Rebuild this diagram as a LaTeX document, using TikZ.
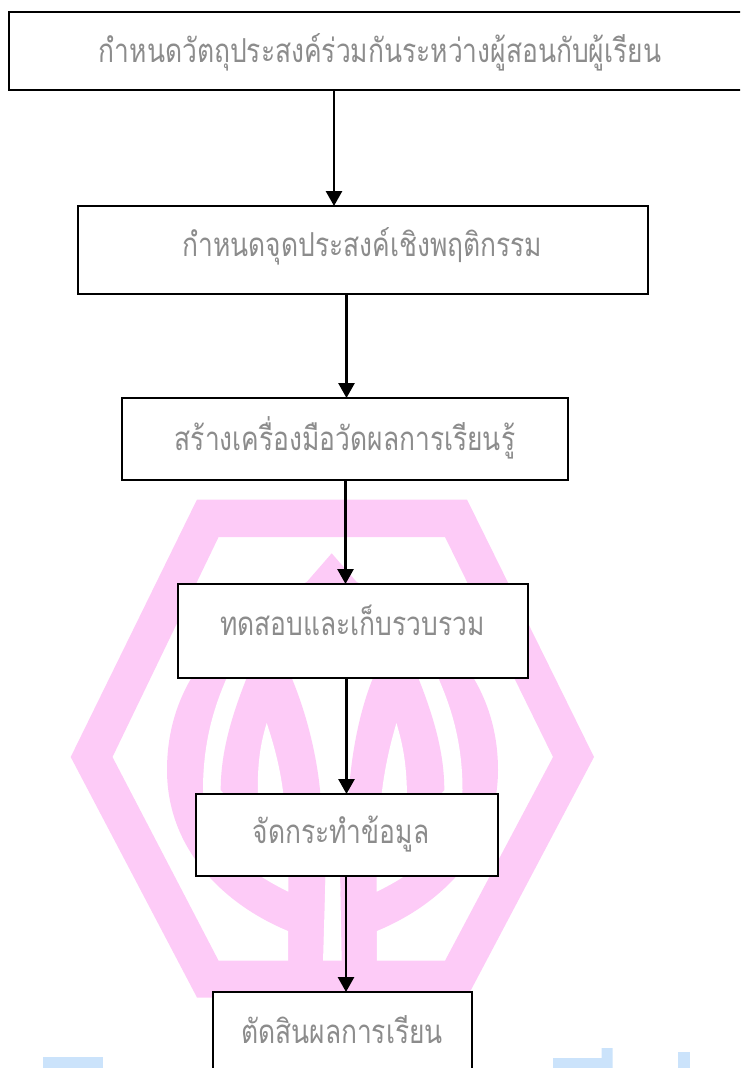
\documentclass[tikz,border=0pt]{standalone}
\usepackage{fontspec}
\usetikzlibrary{arrows.meta}
\newfontfamily\thaifont[Script=Thai,FakeStretch=0.8]{Loma}
\definecolor{wmpink}{HTML}{FDCBF7}
\definecolor{wmblue}{HTML}{CBE3FB}
\definecolor{txtgray}{HTML}{8C8C8C}
\tikzset{
  stepbox/.style={draw=black,fill=white,line width=2.8pt,inner sep=0pt,outer sep=0pt},
  steptext/.style={anchor=base,inner sep=0pt,text=txtgray,font=\thaifont\fontsize{33}{38}\selectfont},
  flowline/.style={draw=black,line width=2.8pt,-{Triangle[width=16pt,length=15pt]}},
  pinkfill/.style={fill=wmpink,draw=none},
  whitefill/.style={fill=white,draw=none},
  bluefill/.style={fill=wmblue,draw=none}
}
\begin{document}
\begin{tikzpicture}[x=1pt,y=-1pt]
\useasboundingbox (0,0) rectangle (740,1068);
\clip (0,0) rectangle (740,1068);
% watermark: bottom blue pieces
\fill[bluefill] (43,1057) rectangle (103,1068);
\fill[bluefill] (553,1058) -- (601.7,1058) -- (601.7,1048) -- (612.7,1048) -- (612.7,1068) -- (553,1068) -- cycle;
\fill[bluefill] (678,1052) rectangle (690,1068);
% watermark: lotus
\fill[pinkfill] (331.7,553.3) -- (306.7,582)
  .. controls (225,620) and (167,680) .. (167,770)
  .. controls (167,850) and (225,905) .. (288.3,931)
  -- (288.3,962) -- (376.7,962) -- (376.7,931)
  .. controls (440,905) and (498,850) .. (498,770)
  .. controls (498,680) and (440,620) .. (356.7,582) -- cycle;
\fill[whitefill] (332.5,600) -- (226.7,678)
  .. controls (215,705) and (203,740) .. (203,790)
  .. controls (203,835) and (240,868) .. (288.3,891.7)
  -- (376.7,891.7)
  .. controls (425,868) and (462.5,835) .. (462.5,790)
  .. controls (462.5,740) and (450,705) .. (438.3,678) -- cycle;
\fill[pinkfill] (269,640) -- (246.7,678)
  .. controls (230,720) and (220.7,755) .. (220.7,790)
  -- (288.3,870) -- (288.3,962) -- (323,962) -- (325.7,876) -- (320,790)
  .. controls (316,750) and (305,710) .. (291.7,678) -- cycle;
\fill[pinkfill] (396,640) -- (418.3,678)
  .. controls (435,720) and (444.3,755) .. (444.3,790)
  -- (376.7,870) -- (376.7,962) -- (341.7,962) -- (340,876) -- (349,790)
  .. controls (352,750) and (360,710) .. (373,678) -- cycle;
\fill[whitefill] (266.7,723) .. controls (260,745) and (257,765) .. (258,800) -- (284,800) .. controls (281,770) and (274,745) .. (266.7,723) -- cycle;
\fill[whitefill] (396.4,723) .. controls (403,745) and (407,765) .. (407,800) -- (381,800) .. controls (384,770) and (390,745) .. (396.4,723) -- cycle;
\fill[whitefill] (325.7,870) -- (340,870) -- (341.7,962) -- (323,962) -- cycle;
% watermark: hexagon ring
\fill[pinkfill,even odd rule] (197,499.5) -- (467,499.5) -- (594,757) -- (467,997.5) -- (197,997.5) -- (70.7,757) -- cycle
  (218.6,537) -- (445,537) -- (553,757) -- (445,960.7) -- (218.6,960.7) -- (112.5,757) -- cycle;
% boxes
\node[stepbox,minimum width=771pt,minimum height=78pt] (b1) at (394.5,51) {};
\node[stepbox,minimum width=570pt,minimum height=88pt] (b2) at (363,250) {};
\node[stepbox,minimum width=446pt,minimum height=82pt] (b3) at (345,439) {};
\node[stepbox,minimum width=350pt,minimum height=94pt] (b4) at (353,631) {};
\node[stepbox,minimum width=302pt,minimum height=82pt] (b5) at (347,835) {};
\node[stepbox,minimum width=259pt,minimum height=108pt] (b6) at (342.5,1046) {};
% labels
\node[steptext] (t1) at (380,62) {กำหนดวัตถุประสงค์ร่วมกันระหว่างผู้สอนกับผู้เรียน};
\node[steptext] (t2) at (362.5,256) {กำหนดจุดประสงค์เชิงพฤติกรรม};
\node[steptext] (t3) at (345,450) {สร้างเครื่องมือวัดผลการเรียนรู้};
\node[steptext] (t4) at (352.5,635) {ทดสอบและเก็บรวบรวม};
\node[steptext] (t5) at (341,843) {จัดกระทำข้อมูล};
\node[steptext] (t6) at (342,1043) {ตัดสินผลการเรียน};
% connectors
\coordinate (c12) at (334,0);
\coordinate (c23) at (346.5,0);
\coordinate (c34) at (345.5,0);
\coordinate (c45) at (346.5,0);
\coordinate (c56) at (346,0);
\draw[flowline] (c12 |- b1.south) -- (c12 |- b2.north);
\draw[flowline] (c23 |- b2.south) -- (c23 |- b3.north);
\draw[flowline] (c34 |- b3.south) -- (c34 |- b4.north);
\draw[flowline] (c45 |- b4.south) -- (c45 |- b5.north);
\draw[flowline] (c56 |- b5.south) -- (c56 |- b6.north);
\end{tikzpicture}
\end{document}
